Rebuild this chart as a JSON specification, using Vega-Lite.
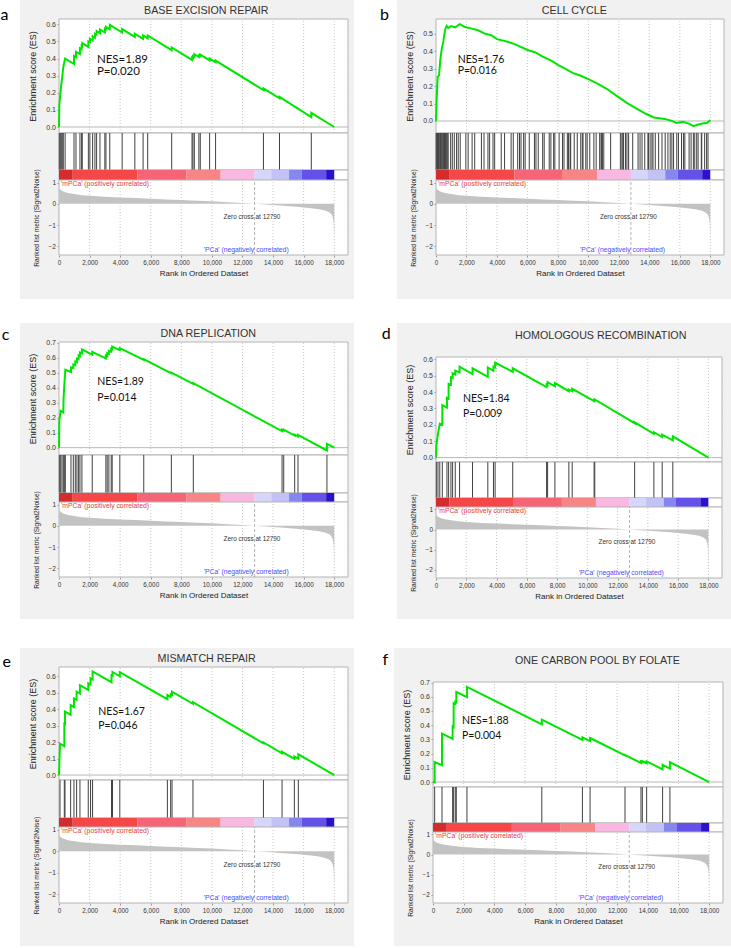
{
  "$schema": "https://vega.github.io/schema/vega-lite/v6.json",
  "padding": 0,
  "background": "white",
  "config": {
    "view": {"stroke": null},
    "axis": {"labelFont": "Liberation Sans", "titleFont": "Liberation Sans", "labelFontSize": 6.5, "labelColor": "#333", "titleColor": "#222", "titleFontWeight": "normal", "tickColor": "#999", "tickSize": 2, "domain": false, "gridColor": "#c8c8c8", "gridDash": [1, 2], "labelPadding": 1.5, "zindex": 1, "labelOverlap": false}
  },
  "datasets": {
    "grid": [{"t": 2000}, {"t": 4000}, {"t": 6000}, {"t": 8000}, {"t": 10000}, {"t": 12000}, {"t": 14000}, {"t": 16000}, {"t": 18000}],
    "bar": [{"s": 0, "e": 900, "k": 0}, {"s": 900, "e": 5140, "k": 1}, {"s": 5140, "e": 8320, "k": 2}, {"s": 8320, "e": 10570, "k": 3}, {"s": 10570, "e": 12790, "k": 4}, {"s": 12790, "e": 13880, "k": 5}, {"s": 13880, "e": 15045, "k": 6}, {"s": 15045, "e": 15860, "k": 7}, {"s": 15860, "e": 17470, "k": 8}, {"s": 17470, "e": 18000, "k": 9}],
    "metric": [{"r": 0, "m": 0.78}, {"r": 30, "m": 0.72}, {"r": 100, "m": 0.66}, {"r": 200, "m": 0.61}, {"r": 350, "m": 0.56}, {"r": 600, "m": 0.51}, {"r": 1000, "m": 0.46}, {"r": 1500, "m": 0.41}, {"r": 2000, "m": 0.38}, {"r": 3000, "m": 0.33}, {"r": 4000, "m": 0.3}, {"r": 5000, "m": 0.27}, {"r": 6000, "m": 0.24}, {"r": 7000, "m": 0.21}, {"r": 8000, "m": 0.18}, {"r": 9000, "m": 0.15}, {"r": 10000, "m": 0.12}, {"r": 11000, "m": 0.08}, {"r": 12000, "m": 0.04}, {"r": 12790, "m": 0}, {"r": 13500, "m": -0.03}, {"r": 14500, "m": -0.08}, {"r": 15500, "m": -0.13}, {"r": 16500, "m": -0.2}, {"r": 17000, "m": -0.25}, {"r": 17400, "m": -0.31}, {"r": 17700, "m": -0.4}, {"r": 17850, "m": -0.52}, {"r": 17930, "m": -0.7}, {"r": 17970, "m": -0.95}, {"r": 17990, "m": -1.4}, {"r": 18000, "m": -2.3}],
    "hits": [
      {"p": "a", "r": 20}, {"p": "a", "r": 85}, {"p": "a", "r": 150}, {"p": "a", "r": 215}, {"p": "a", "r": 280}, {"p": "a", "r": 400}, {"p": "a", "r": 980}, {"p": "a", "r": 1110}, {"p": "a", "r": 1370}, {"p": "a", "r": 1480}, {"p": "a", "r": 1520}, {"p": "a", "r": 1920}, {"p": "a", "r": 2020}, {"p": "a", "r": 2200}, {"p": "a", "r": 2350}, {"p": "a", "r": 2460}, {"p": "a", "r": 2680}, {"p": "a", "r": 3000}, {"p": "a", "r": 3070}, {"p": "a", "r": 3320}, {"p": "a", "r": 4130}, {"p": "a", "r": 4960}, {"p": "a", "r": 5500}, {"p": "a", "r": 5800}, {"p": "a", "r": 7370}, {"p": "a", "r": 8700}, {"p": "a", "r": 8760}, {"p": "a", "r": 8850}, {"p": "a", "r": 9150}, {"p": "a", "r": 9240}, {"p": "a", "r": 9850}, {"p": "a", "r": 10240}, {"p": "a", "r": 13370}, {"p": "a", "r": 14420}, {"p": "a", "r": 16500},
      {"p": "b", "r": 10}, {"p": "b", "r": 50}, {"p": "b", "r": 90}, {"p": "b", "r": 130}, {"p": "b", "r": 170}, {"p": "b", "r": 210}, {"p": "b", "r": 260}, {"p": "b", "r": 300}, {"p": "b", "r": 350}, {"p": "b", "r": 400}, {"p": "b", "r": 450}, {"p": "b", "r": 500}, {"p": "b", "r": 560}, {"p": "b", "r": 620}, {"p": "b", "r": 680}, {"p": "b", "r": 740}, {"p": "b", "r": 800}, {"p": "b", "r": 960}, {"p": "b", "r": 1070}, {"p": "b", "r": 1200}, {"p": "b", "r": 1350}, {"p": "b", "r": 1460}, {"p": "b", "r": 1590}, {"p": "b", "r": 1960}, {"p": "b", "r": 2110}, {"p": "b", "r": 2370}, {"p": "b", "r": 2540}, {"p": "b", "r": 2980}, {"p": "b", "r": 3150}, {"p": "b", "r": 3410}, {"p": "b", "r": 3520}, {"p": "b", "r": 3740}, {"p": "b", "r": 3850}, {"p": "b", "r": 4280}, {"p": "b", "r": 4500}, {"p": "b", "r": 4930}, {"p": "b", "r": 5070}, {"p": "b", "r": 5360}, {"p": "b", "r": 5480}, {"p": "b", "r": 5580}, {"p": "b", "r": 5750}, {"p": "b", "r": 5850}, {"p": "b", "r": 6120}, {"p": "b", "r": 6460}, {"p": "b", "r": 6560}, {"p": "b", "r": 6710}, {"p": "b", "r": 7000}, {"p": "b", "r": 7100}, {"p": "b", "r": 7430}, {"p": "b", "r": 7540}, {"p": "b", "r": 7720}, {"p": "b", "r": 7800}, {"p": "b", "r": 8080}, {"p": "b", "r": 8300}, {"p": "b", "r": 8400}, {"p": "b", "r": 8620}, {"p": "b", "r": 8700}, {"p": "b", "r": 8800}, {"p": "b", "r": 8840}, {"p": "b", "r": 9070}, {"p": "b", "r": 9270}, {"p": "b", "r": 9500}, {"p": "b", "r": 9600}, {"p": "b", "r": 9650}, {"p": "b", "r": 9830}, {"p": "b", "r": 9920}, {"p": "b", "r": 10090}, {"p": "b", "r": 10360}, {"p": "b", "r": 10510}, {"p": "b", "r": 10740}, {"p": "b", "r": 10830}, {"p": "b", "r": 10870}, {"p": "b", "r": 10920}, {"p": "b", "r": 11010}, {"p": "b", "r": 11460}, {"p": "b", "r": 12100}, {"p": "b", "r": 12200}, {"p": "b", "r": 12260}, {"p": "b", "r": 12310}, {"p": "b", "r": 12440}, {"p": "b", "r": 12530}, {"p": "b", "r": 12640}, {"p": "b", "r": 12910}, {"p": "b", "r": 13260}, {"p": "b", "r": 13390}, {"p": "b", "r": 13520}, {"p": "b", "r": 13700}, {"p": "b", "r": 13910}, {"p": "b", "r": 13940}, {"p": "b", "r": 14050}, {"p": "b", "r": 14170}, {"p": "b", "r": 14240}, {"p": "b", "r": 14390}, {"p": "b", "r": 14610}, {"p": "b", "r": 14830}, {"p": "b", "r": 15040}, {"p": "b", "r": 15220}, {"p": "b", "r": 15370}, {"p": "b", "r": 15480}, {"p": "b", "r": 15590}, {"p": "b", "r": 15800}, {"p": "b", "r": 15910}, {"p": "b", "r": 16110}, {"p": "b", "r": 16240}, {"p": "b", "r": 16330}, {"p": "b", "r": 16610}, {"p": "b", "r": 16740}, {"p": "b", "r": 16890}, {"p": "b", "r": 16980}, {"p": "b", "r": 17110}, {"p": "b", "r": 17200}, {"p": "b", "r": 17410}, {"p": "b", "r": 17440}, {"p": "b", "r": 17630}, {"p": "b", "r": 17760}, {"p": "b", "r": 17850},
      {"p": "c", "r": 22}, {"p": "c", "r": 109}, {"p": "c", "r": 196}, {"p": "c", "r": 283}, {"p": "c", "r": 348}, {"p": "c", "r": 413}, {"p": "c", "r": 783}, {"p": "c", "r": 935}, {"p": "c", "r": 1065}, {"p": "c", "r": 1174}, {"p": "c", "r": 1283}, {"p": "c", "r": 1370}, {"p": "c", "r": 1500}, {"p": "c", "r": 2174}, {"p": "c", "r": 3065}, {"p": "c", "r": 3152}, {"p": "c", "r": 3261}, {"p": "c", "r": 3413}, {"p": "c", "r": 3478}, {"p": "c", "r": 3978}, {"p": "c", "r": 5543}, {"p": "c", "r": 7348}, {"p": "c", "r": 8783}, {"p": "c", "r": 14587}, {"p": "c", "r": 14696}, {"p": "c", "r": 15413}, {"p": "c", "r": 15630}, {"p": "c", "r": 17522},
      {"p": "d", "r": 22}, {"p": "d", "r": 132}, {"p": "d", "r": 250}, {"p": "d", "r": 417}, {"p": "d", "r": 724}, {"p": "d", "r": 834}, {"p": "d", "r": 988}, {"p": "d", "r": 1097}, {"p": "d", "r": 1273}, {"p": "d", "r": 1558}, {"p": "d", "r": 2414}, {"p": "d", "r": 3424}, {"p": "d", "r": 3797}, {"p": "d", "r": 3907}, {"p": "d", "r": 5070}, {"p": "d", "r": 7309}, {"p": "d", "r": 7375}, {"p": "d", "r": 7858}, {"p": "d", "r": 8780}, {"p": "d", "r": 9000}, {"p": "d", "r": 10448}, {"p": "d", "r": 10492}, {"p": "d", "r": 13126}, {"p": "d", "r": 14399}, {"p": "d", "r": 14948}, {"p": "d", "r": 15650},
      {"p": "e", "r": 65}, {"p": "e", "r": 348}, {"p": "e", "r": 391}, {"p": "e", "r": 761}, {"p": "e", "r": 978}, {"p": "e", "r": 1152}, {"p": "e", "r": 1370}, {"p": "e", "r": 1913}, {"p": "e", "r": 2065}, {"p": "e", "r": 2196}, {"p": "e", "r": 3435}, {"p": "e", "r": 3500}, {"p": "e", "r": 3978}, {"p": "e", "r": 7087}, {"p": "e", "r": 7304}, {"p": "e", "r": 7391}, {"p": "e", "r": 8761}, {"p": "e", "r": 13370}, {"p": "e", "r": 14587}, {"p": "e", "r": 15391}, {"p": "e", "r": 15652},
      {"p": "f", "r": 108}, {"p": "f", "r": 586}, {"p": "f", "r": 1280}, {"p": "f", "r": 1345}, {"p": "f", "r": 1453}, {"p": "f", "r": 1518}, {"p": "f", "r": 2212}, {"p": "f", "r": 7092}, {"p": "f", "r": 9738}, {"p": "f", "r": 10237}, {"p": "f", "r": 12514}, {"p": "f", "r": 13555}, {"p": "f", "r": 13642}, {"p": "f", "r": 13924}, {"p": "f", "r": 14964}, {"p": "f", "r": 15441}
    ],
    "es": [
      {"p": "a", "r": 0, "v": 0}, {"p": "a", "r": 20, "v": 0.13}, {"p": "a", "r": 85, "v": 0.19}, {"p": "a", "r": 150, "v": 0.25}, {"p": "a", "r": 215, "v": 0.295}, {"p": "a", "r": 280, "v": 0.35}, {"p": "a", "r": 400, "v": 0.4}, {"p": "a", "r": 980, "v": 0.368}, {"p": "a", "r": 980, "v": 0.415}, {"p": "a", "r": 1110, "v": 0.408}, {"p": "a", "r": 1110, "v": 0.44}, {"p": "a", "r": 1370, "v": 0.426}, {"p": "a", "r": 1370, "v": 0.46}, {"p": "a", "r": 1480, "v": 0.454}, {"p": "a", "r": 1480, "v": 0.475}, {"p": "a", "r": 1520, "v": 0.473}, {"p": "a", "r": 1520, "v": 0.49}, {"p": "a", "r": 1920, "v": 0.468}, {"p": "a", "r": 1920, "v": 0.5}, {"p": "a", "r": 2020, "v": 0.495}, {"p": "a", "r": 2020, "v": 0.515}, {"p": "a", "r": 2200, "v": 0.505}, {"p": "a", "r": 2200, "v": 0.53}, {"p": "a", "r": 2350, "v": 0.522}, {"p": "a", "r": 2350, "v": 0.545}, {"p": "a", "r": 2460, "v": 0.539}, {"p": "a", "r": 2460, "v": 0.56}, {"p": "a", "r": 2680, "v": 0.548}, {"p": "a", "r": 2680, "v": 0.57}, {"p": "a", "r": 3000, "v": 0.552}, {"p": "a", "r": 3000, "v": 0.575}, {"p": "a", "r": 3070, "v": 0.571}, {"p": "a", "r": 3070, "v": 0.585}, {"p": "a", "r": 3320, "v": 0.571}, {"p": "a", "r": 3320, "v": 0.597}, {"p": "a", "r": 4130, "v": 0.552}, {"p": "a", "r": 4130, "v": 0.572}, {"p": "a", "r": 4960, "v": 0.526}, {"p": "a", "r": 4960, "v": 0.545}, {"p": "a", "r": 5500, "v": 0.515}, {"p": "a", "r": 5500, "v": 0.535}, {"p": "a", "r": 5800, "v": 0.518}, {"p": "a", "r": 5800, "v": 0.535}, {"p": "a", "r": 7370, "v": 0.449}, {"p": "a", "r": 7370, "v": 0.465}, {"p": "a", "r": 8700, "v": 0.392}, {"p": "a", "r": 8700, "v": 0.405}, {"p": "a", "r": 8760, "v": 0.402}, {"p": "a", "r": 8760, "v": 0.415}, {"p": "a", "r": 8850, "v": 0.41}, {"p": "a", "r": 8850, "v": 0.425}, {"p": "a", "r": 9150, "v": 0.409}, {"p": "a", "r": 9150, "v": 0.418}, {"p": "a", "r": 9240, "v": 0.413}, {"p": "a", "r": 9240, "v": 0.423}, {"p": "a", "r": 9850, "v": 0.389}, {"p": "a", "r": 9850, "v": 0.4}, {"p": "a", "r": 10240, "v": 0.379}, {"p": "a", "r": 10240, "v": 0.388}, {"p": "a", "r": 13370, "v": 0.216}, {"p": "a", "r": 13370, "v": 0.226}, {"p": "a", "r": 14420, "v": 0.168}, {"p": "a", "r": 14420, "v": 0.176}, {"p": "a", "r": 16500, "v": 0.058}, {"p": "a", "r": 16500, "v": 0.083}, {"p": "a", "r": 18000, "v": 0},
      {"p": "b", "r": 0, "v": 0}, {"p": "b", "r": 40, "v": 0.12}, {"p": "b", "r": 110, "v": 0.255}, {"p": "b", "r": 200, "v": 0.262}, {"p": "b", "r": 280, "v": 0.35}, {"p": "b", "r": 370, "v": 0.41}, {"p": "b", "r": 480, "v": 0.456}, {"p": "b", "r": 590, "v": 0.523}, {"p": "b", "r": 700, "v": 0.546}, {"p": "b", "r": 800, "v": 0.535}, {"p": "b", "r": 1000, "v": 0.545}, {"p": "b", "r": 1250, "v": 0.538}, {"p": "b", "r": 1560, "v": 0.556}, {"p": "b", "r": 1900, "v": 0.54}, {"p": "b", "r": 2300, "v": 0.532}, {"p": "b", "r": 2800, "v": 0.52}, {"p": "b", "r": 3200, "v": 0.502}, {"p": "b", "r": 3600, "v": 0.494}, {"p": "b", "r": 4000, "v": 0.47}, {"p": "b", "r": 4700, "v": 0.455}, {"p": "b", "r": 5200, "v": 0.44}, {"p": "b", "r": 6000, "v": 0.408}, {"p": "b", "r": 6500, "v": 0.395}, {"p": "b", "r": 7000, "v": 0.37}, {"p": "b", "r": 7600, "v": 0.345}, {"p": "b", "r": 8000, "v": 0.322}, {"p": "b", "r": 8500, "v": 0.3}, {"p": "b", "r": 9000, "v": 0.275}, {"p": "b", "r": 9500, "v": 0.26}, {"p": "b", "r": 10000, "v": 0.241}, {"p": "b", "r": 10600, "v": 0.215}, {"p": "b", "r": 11200, "v": 0.185}, {"p": "b", "r": 12000, "v": 0.136}, {"p": "b", "r": 12600, "v": 0.1}, {"p": "b", "r": 13200, "v": 0.07}, {"p": "b", "r": 13800, "v": 0.04}, {"p": "b", "r": 14300, "v": 0.02}, {"p": "b", "r": 15000, "v": 0.012}, {"p": "b", "r": 15500, "v": 0}, {"p": "b", "r": 15800, "v": -0.012}, {"p": "b", "r": 16200, "v": -0.005}, {"p": "b", "r": 16600, "v": -0.015}, {"p": "b", "r": 16900, "v": -0.03}, {"p": "b", "r": 17200, "v": -0.02}, {"p": "b", "r": 17500, "v": -0.015}, {"p": "b", "r": 17800, "v": -0.01}, {"p": "b", "r": 18000, "v": 0.005},
      {"p": "c", "r": 0, "v": 0}, {"p": "c", "r": 22, "v": 0.18}, {"p": "c", "r": 109, "v": 0.245}, {"p": "c", "r": 283, "v": 0.235}, {"p": "c", "r": 300, "v": 0.33}, {"p": "c", "r": 348, "v": 0.42}, {"p": "c", "r": 413, "v": 0.52}, {"p": "c", "r": 783, "v": 0.505}, {"p": "c", "r": 783, "v": 0.535}, {"p": "c", "r": 935, "v": 0.53}, {"p": "c", "r": 935, "v": 0.555}, {"p": "c", "r": 1065, "v": 0.55}, {"p": "c", "r": 1065, "v": 0.575}, {"p": "c", "r": 1174, "v": 0.57}, {"p": "c", "r": 1174, "v": 0.595}, {"p": "c", "r": 1283, "v": 0.59}, {"p": "c", "r": 1283, "v": 0.615}, {"p": "c", "r": 1370, "v": 0.61}, {"p": "c", "r": 1370, "v": 0.635}, {"p": "c", "r": 1500, "v": 0.63}, {"p": "c", "r": 1500, "v": 0.655}, {"p": "c", "r": 2174, "v": 0.62}, {"p": "c", "r": 2174, "v": 0.64}, {"p": "c", "r": 3065, "v": 0.595}, {"p": "c", "r": 3065, "v": 0.615}, {"p": "c", "r": 3152, "v": 0.61}, {"p": "c", "r": 3152, "v": 0.63}, {"p": "c", "r": 3261, "v": 0.625}, {"p": "c", "r": 3261, "v": 0.645}, {"p": "c", "r": 3413, "v": 0.64}, {"p": "c", "r": 3413, "v": 0.66}, {"p": "c", "r": 3478, "v": 0.657}, {"p": "c", "r": 3478, "v": 0.675}, {"p": "c", "r": 3978, "v": 0.65}, {"p": "c", "r": 3978, "v": 0.665}, {"p": "c", "r": 5543, "v": 0.585}, {"p": "c", "r": 5543, "v": 0.59}, {"p": "c", "r": 7348, "v": 0.495}, {"p": "c", "r": 7348, "v": 0.5}, {"p": "c", "r": 8783, "v": 0.425}, {"p": "c", "r": 8783, "v": 0.43}, {"p": "c", "r": 14587, "v": 0.11}, {"p": "c", "r": 14587, "v": 0.12}, {"p": "c", "r": 14696, "v": 0.114}, {"p": "c", "r": 14696, "v": 0.12}, {"p": "c", "r": 15413, "v": 0.081}, {"p": "c", "r": 15413, "v": 0.087}, {"p": "c", "r": 15630, "v": 0.075}, {"p": "c", "r": 15630, "v": 0.085}, {"p": "c", "r": 17522, "v": -0.019}, {"p": "c", "r": 17522, "v": 0.025}, {"p": "c", "r": 18000, "v": 0},
      {"p": "d", "r": 0, "v": 0}, {"p": "d", "r": 22, "v": 0.075}, {"p": "d", "r": 132, "v": 0.146}, {"p": "d", "r": 250, "v": 0.207}, {"p": "d", "r": 417, "v": 0.2}, {"p": "d", "r": 417, "v": 0.32}, {"p": "d", "r": 724, "v": 0.305}, {"p": "d", "r": 724, "v": 0.365}, {"p": "d", "r": 834, "v": 0.36}, {"p": "d", "r": 834, "v": 0.45}, {"p": "d", "r": 988, "v": 0.445}, {"p": "d", "r": 988, "v": 0.49}, {"p": "d", "r": 1097, "v": 0.485}, {"p": "d", "r": 1097, "v": 0.515}, {"p": "d", "r": 1273, "v": 0.508}, {"p": "d", "r": 1273, "v": 0.53}, {"p": "d", "r": 1558, "v": 0.52}, {"p": "d", "r": 1558, "v": 0.555}, {"p": "d", "r": 2414, "v": 0.51}, {"p": "d", "r": 2414, "v": 0.545}, {"p": "d", "r": 3424, "v": 0.493}, {"p": "d", "r": 3424, "v": 0.55}, {"p": "d", "r": 3797, "v": 0.53}, {"p": "d", "r": 3797, "v": 0.555}, {"p": "d", "r": 3907, "v": 0.55}, {"p": "d", "r": 3907, "v": 0.58}, {"p": "d", "r": 5070, "v": 0.523}, {"p": "d", "r": 5070, "v": 0.545}, {"p": "d", "r": 7309, "v": 0.43}, {"p": "d", "r": 7309, "v": 0.445}, {"p": "d", "r": 7375, "v": 0.442}, {"p": "d", "r": 7375, "v": 0.46}, {"p": "d", "r": 7858, "v": 0.435}, {"p": "d", "r": 7858, "v": 0.455}, {"p": "d", "r": 8780, "v": 0.405}, {"p": "d", "r": 8780, "v": 0.415}, {"p": "d", "r": 9000, "v": 0.405}, {"p": "d", "r": 9000, "v": 0.42}, {"p": "d", "r": 10448, "v": 0.345}, {"p": "d", "r": 10448, "v": 0.35}, {"p": "d", "r": 10492, "v": 0.348}, {"p": "d", "r": 10492, "v": 0.355}, {"p": "d", "r": 13126, "v": 0.21}, {"p": "d", "r": 13126, "v": 0.215}, {"p": "d", "r": 14399, "v": 0.145}, {"p": "d", "r": 14399, "v": 0.155}, {"p": "d", "r": 14948, "v": 0.125}, {"p": "d", "r": 14948, "v": 0.14}, {"p": "d", "r": 15650, "v": 0.105}, {"p": "d", "r": 15650, "v": 0.13}, {"p": "d", "r": 18000, "v": 0},
      {"p": "e", "r": 0, "v": 0}, {"p": "e", "r": 65, "v": 0.19}, {"p": "e", "r": 348, "v": 0.175}, {"p": "e", "r": 348, "v": 0.31}, {"p": "e", "r": 391, "v": 0.308}, {"p": "e", "r": 391, "v": 0.385}, {"p": "e", "r": 761, "v": 0.365}, {"p": "e", "r": 761, "v": 0.424}, {"p": "e", "r": 978, "v": 0.412}, {"p": "e", "r": 978, "v": 0.465}, {"p": "e", "r": 1152, "v": 0.456}, {"p": "e", "r": 1152, "v": 0.505}, {"p": "e", "r": 1370, "v": 0.494}, {"p": "e", "r": 1370, "v": 0.545}, {"p": "e", "r": 1913, "v": 0.516}, {"p": "e", "r": 1913, "v": 0.556}, {"p": "e", "r": 2065, "v": 0.548}, {"p": "e", "r": 2065, "v": 0.586}, {"p": "e", "r": 2196, "v": 0.579}, {"p": "e", "r": 2196, "v": 0.628}, {"p": "e", "r": 3435, "v": 0.563}, {"p": "e", "r": 3435, "v": 0.605}, {"p": "e", "r": 3500, "v": 0.602}, {"p": "e", "r": 3500, "v": 0.625}, {"p": "e", "r": 3978, "v": 0.599}, {"p": "e", "r": 3978, "v": 0.624}, {"p": "e", "r": 7087, "v": 0.46}, {"p": "e", "r": 7087, "v": 0.485}, {"p": "e", "r": 7304, "v": 0.474}, {"p": "e", "r": 7304, "v": 0.49}, {"p": "e", "r": 7391, "v": 0.485}, {"p": "e", "r": 7391, "v": 0.505}, {"p": "e", "r": 8761, "v": 0.432}, {"p": "e", "r": 8761, "v": 0.442}, {"p": "e", "r": 13370, "v": 0.192}, {"p": "e", "r": 13370, "v": 0.198}, {"p": "e", "r": 14587, "v": 0.132}, {"p": "e", "r": 14587, "v": 0.141}, {"p": "e", "r": 15391, "v": 0.098}, {"p": "e", "r": 15391, "v": 0.112}, {"p": "e", "r": 15652, "v": 0.098}, {"p": "e", "r": 15652, "v": 0.126}, {"p": "e", "r": 18000, "v": 0},
      {"p": "f", "r": 0, "v": 0}, {"p": "f", "r": 108, "v": -0.003}, {"p": "f", "r": 108, "v": 0.14}, {"p": "f", "r": 586, "v": 0.118}, {"p": "f", "r": 586, "v": 0.34}, {"p": "f", "r": 1280, "v": 0.303}, {"p": "f", "r": 1280, "v": 0.39}, {"p": "f", "r": 1345, "v": 0.386}, {"p": "f", "r": 1345, "v": 0.555}, {"p": "f", "r": 1453, "v": 0.549}, {"p": "f", "r": 1453, "v": 0.565}, {"p": "f", "r": 1518, "v": 0.561}, {"p": "f", "r": 1518, "v": 0.635}, {"p": "f", "r": 2212, "v": 0.598}, {"p": "f", "r": 2212, "v": 0.67}, {"p": "f", "r": 7092, "v": 0.406}, {"p": "f", "r": 7092, "v": 0.44}, {"p": "f", "r": 9738, "v": 0.297}, {"p": "f", "r": 9738, "v": 0.315}, {"p": "f", "r": 10237, "v": 0.288}, {"p": "f", "r": 10237, "v": 0.31}, {"p": "f", "r": 12514, "v": 0.187}, {"p": "f", "r": 12514, "v": 0.19}, {"p": "f", "r": 13555, "v": 0.134}, {"p": "f", "r": 13555, "v": 0.145}, {"p": "f", "r": 13642, "v": 0.14}, {"p": "f", "r": 13642, "v": 0.147}, {"p": "f", "r": 13924, "v": 0.132}, {"p": "f", "r": 13924, "v": 0.145}, {"p": "f", "r": 14964, "v": 0.089}, {"p": "f", "r": 14964, "v": 0.12}, {"p": "f", "r": 15441, "v": 0.094}, {"p": "f", "r": 15441, "v": 0.14}, {"p": "f", "r": 18000, "v": 0}
    ]
  },
  "spacing": 29,
  "vconcat": [
    {
      "spacing": 24,
      "vconcat": [
        {
          "spacing": 0,
          "hconcat": [
            {"width": 20, "height": 40, "data": {"values": [{"t": "a"}]}, "mark": {"type": "text", "font": "Lato", "fontSize": 16, "baseline": "alphabetic", "dx": -5.5, "color": "black"}, "encoding": {"text": {"field": "t"}}},
            {
              "width": 334, "height": 299,
              "view": {"fill": "#f1f1f1", "stroke": null},
              "resolve": {"scale": {"y": "independent"}, "axis": {"y": "independent"}},
              "layer": [
                {"layer": [
                  {"data": {"values": [{}]}, "mark": {"type": "rect", "fill": "white", "stroke": "#b4b4b4", "strokeWidth": 1}, "encoding": {"x": {"datum": 0, "type": "quantitative", "scale": {"domain": [0, 18900], "range": [39, 328], "nice": false, "zero": false}}, "x2": {"datum": 18900}, "y": {"datum": -0.035, "type": "quantitative", "scale": {"domain": [-0.035, 0.631], "range": [133, 19], "nice": false, "zero": false}, "axis": {"orient": "left", "offset": -39, "values": [0, 0.1, 0.2, 0.3, 0.4, 0.5, 0.6], "tickCount": 20, "format": ".1f", "grid": true, "title": "Enrichment score (ES)", "titleFontSize": 9, "titlePadding": 8, "labelFontSize": 7}}, "y2": {"datum": 0.631}}},
                  {"data": {"name": "grid"}, "mark": {"type": "rule", "stroke": "#c8c8c8", "strokeDash": [1, 2]}, "encoding": {"x": {"field": "t", "type": "quantitative"}, "y": {"datum": -0.035, "type": "quantitative"}, "y2": {"datum": 0.631}}},
                  {"data": {"values": [{}]}, "mark": {"type": "rule", "stroke": "#b8b8b8"}, "encoding": {"x": {"datum": 0, "type": "quantitative"}, "x2": {"datum": 18900}, "y": {"datum": 0, "type": "quantitative"}}},
                  {"data": {"name": "es"}, "transform": [{"filter": "datum.p === 'a'"}], "mark": {"type": "line", "stroke": "#00e600", "strokeWidth": 2}, "encoding": {"x": {"field": "r", "type": "quantitative"}, "y": {"field": "v", "type": "quantitative"}}},
                  {"data": {"values": [{}]}, "mark": {"type": "text", "text": "NES=1.89", "font": "Lato", "fontSize": 11.5, "align": "left", "baseline": "middle", "color": "#111"}, "encoding": {"x": {"datum": 2480, "type": "quantitative"}, "y": {"datum": 0.391, "type": "quantitative"}}},
                  {"data": {"values": [{}]}, "mark": {"type": "text", "text": "P=0.020", "font": "Lato", "fontSize": 11.5, "align": "left", "baseline": "middle", "color": "#111"}, "encoding": {"x": {"datum": 2480, "type": "quantitative"}, "y": {"datum": 0.321, "type": "quantitative"}}},
                  {"data": {"values": [{}]}, "mark": {"type": "text", "text": "BASE EXCISION REPAIR", "font": "Liberation Sans", "fontSize": 10.7, "align": "center", "baseline": "middle", "color": "#333"}, "encoding": {"x": {"datum": 9633, "type": "quantitative"}, "y": {"datum": 0.678, "type": "quantitative"}}}
                ]},
                {"layer": [
                  {"data": {"values": [{}]}, "mark": {"type": "rect", "fill": "white", "stroke": "#b4b4b4", "strokeWidth": 1}, "encoding": {"x": {"datum": 0, "type": "quantitative"}, "x2": {"datum": 18900}, "y": {"datum": 0, "type": "quantitative", "scale": {"domain": [0, 1], "range": [170, 133], "nice": false}, "axis": null}, "y2": {"datum": 1}}},
                  {"data": {"name": "hits"}, "transform": [{"filter": "datum.p === 'a'"}], "mark": {"type": "rule", "stroke": "#404040", "strokeWidth": 1}, "encoding": {"x": {"field": "r", "type": "quantitative"}, "y": {"datum": 0, "type": "quantitative", "axis": null}, "y2": {"datum": 1}}}
                ]},
                {"layer": [
                  {"data": {"values": [{}]}, "mark": {"type": "rect", "fill": "white", "stroke": "#b4b4b4", "strokeWidth": 1}, "encoding": {"x": {"datum": 0, "type": "quantitative"}, "x2": {"datum": 18900}, "y": {"datum": 0, "type": "quantitative", "scale": {"domain": [0, 1], "range": [180, 170], "nice": false}, "axis": null}, "y2": {"datum": 1}}},
                  {"data": {"name": "bar"}, "mark": {"type": "rect"}, "encoding": {"x": {"field": "s", "type": "quantitative"}, "x2": {"field": "e"}, "y": {"datum": 0, "type": "quantitative", "axis": null}, "y2": {"datum": 1}, "color": {"field": "k", "type": "nominal", "scale": {"domain": [0, 1, 2, 3, 4, 5, 6, 7, 8, 9], "range": ["#d42c2c", "#f54747", "#f66577", "#f78585", "#f8b8e2", "#d6d6fa", "#c2c2f7", "#8686f0", "#6452e8", "#2a12cc"]}, "legend": null}}}
                ]},
                {"layer": [
                  {"data": {"values": [{}]}, "mark": {"type": "rect", "fill": "white", "stroke": "#b4b4b4", "strokeWidth": 1}, "encoding": {"x": {"datum": 0, "type": "quantitative"}, "x2": {"datum": 18900}, "y": {"datum": -2.4, "type": "quantitative", "scale": {"domain": [-2.4, 1.12], "range": [255, 180], "nice": false, "zero": false}, "axis": {"orient": "left", "offset": -39, "values": [-2, -1, 0, 1], "tickCount": 20, "format": "d", "grid": true, "title": "Ranked list metric (Signal2Noise)", "titleFontSize": 6.6, "titlePadding": 9, "labelFontSize": 6.5}}, "y2": {"datum": 1.12}}},
                  {"data": {"name": "grid"}, "mark": {"type": "rule", "stroke": "#c8c8c8", "strokeDash": [1, 2]}, "encoding": {"x": {"field": "t", "type": "quantitative"}, "y": {"datum": -2.4, "type": "quantitative"}, "y2": {"datum": 1.12}}},
                  {"data": {"name": "metric"}, "mark": {"type": "area", "color": "#c3c3c3"}, "encoding": {"x": {"field": "r", "type": "quantitative", "axis": {"orient": "bottom", "offset": -44, "values": [0, 2000, 4000, 6000, 8000, 10000, 12000, 14000, 16000, 18000], "tickCount": 20, "format": ",d", "grid": false, "labelFlush": false, "labelOverlap": false, "title": "Rank in Ordered Dataset", "titleFontSize": 8, "titlePadding": 4, "labelFontSize": 6.3, "labelPadding": 2}}, "y": {"field": "m", "type": "quantitative"}}},
                  {"data": {"values": [{}]}, "mark": {"type": "rule", "stroke": "#a0a0a0", "strokeDash": [3, 2], "strokeWidth": 0.8}, "encoding": {"x": {"datum": 12790, "type": "quantitative"}, "y": {"datum": -2.4, "type": "quantitative"}, "y2": {"datum": 1.12}}},
                  {"data": {"values": [{}]}, "mark": {"type": "text", "text": "'mPCa' (positively correlated)", "font": "Liberation Sans", "fontSize": 6.8, "color": "#e83a3a", "align": "left", "baseline": "middle"}, "encoding": {"x": {"datum": 130, "type": "quantitative"}, "y": {"datum": 0.93, "type": "quantitative"}}},
                  {"data": {"values": [{}]}, "mark": {"type": "text", "text": "'PCa' (negatively correlated)", "font": "Liberation Sans", "fontSize": 6.8, "color": "#4a4aff", "align": "center", "baseline": "middle"}, "encoding": {"x": {"datum": 12240, "type": "quantitative"}, "y": {"datum": -2.17, "type": "quantitative"}}},
                  {"data": {"values": [{}]}, "mark": {"type": "text", "text": "Zero cross at 12790", "font": "Liberation Sans", "fontSize": 6.4, "color": "#333", "align": "center", "baseline": "middle"}, "encoding": {"x": {"datum": 12622, "type": "quantitative"}, "y": {"datum": -0.62, "type": "quantitative"}}}
                ]}
              ]
            },
            {"width": 43, "height": 40, "data": {"values": [{"t": "b"}]}, "mark": {"type": "text", "font": "Lato", "fontSize": 16, "baseline": "alphabetic", "dx": 9, "color": "black"}, "encoding": {"text": {"field": "t"}}},
            {
              "width": 334, "height": 299,
              "view": {"fill": "#f1f1f1", "stroke": null},
              "resolve": {"scale": {"y": "independent"}, "axis": {"y": "independent"}},
              "layer": [
                {"layer": [
                  {"data": {"values": [{}]}, "mark": {"type": "rect", "fill": "white", "stroke": "#b4b4b4", "strokeWidth": 1}, "encoding": {"x": {"datum": 0, "type": "quantitative", "scale": {"domain": [0, 18900], "range": [39, 327], "nice": false, "zero": false}}, "x2": {"datum": 18900}, "y": {"datum": -0.069, "type": "quantitative", "scale": {"domain": [-0.069, 0.586], "range": [133, 19], "nice": false, "zero": false}, "axis": {"orient": "left", "offset": -39, "values": [0, 0.1, 0.2, 0.3, 0.4, 0.5], "tickCount": 20, "format": ".1f", "grid": true, "title": "Enrichment score (ES)", "titleFontSize": 9, "titlePadding": 8, "labelFontSize": 7}}, "y2": {"datum": 0.586}}},
                  {"data": {"name": "grid"}, "mark": {"type": "rule", "stroke": "#c8c8c8", "strokeDash": [1, 2]}, "encoding": {"x": {"field": "t", "type": "quantitative"}, "y": {"datum": -0.069, "type": "quantitative"}, "y2": {"datum": 0.586}}},
                  {"data": {"values": [{}]}, "mark": {"type": "rule", "stroke": "#b8b8b8"}, "encoding": {"x": {"datum": 0, "type": "quantitative"}, "x2": {"datum": 18900}, "y": {"datum": 0, "type": "quantitative"}}},
                  {"data": {"name": "es"}, "transform": [{"filter": "datum.p === 'b'"}], "mark": {"type": "line", "stroke": "#00e600", "strokeWidth": 2}, "encoding": {"x": {"field": "r", "type": "quantitative"}, "y": {"field": "v", "type": "quantitative"}}},
                  {"data": {"values": [{}]}, "mark": {"type": "text", "text": "NES=1.76", "font": "Lato", "fontSize": 10.5, "align": "left", "baseline": "middle", "color": "#111"}, "encoding": {"x": {"datum": 1424, "type": "quantitative"}, "y": {"datum": 0.353, "type": "quantitative"}}},
                  {"data": {"values": [{}]}, "mark": {"type": "text", "text": "P=0.016", "font": "Lato", "fontSize": 10.5, "align": "left", "baseline": "middle", "color": "#111"}, "encoding": {"x": {"datum": 1424, "type": "quantitative"}, "y": {"datum": 0.29, "type": "quantitative"}}},
                  {"data": {"values": [{}]}, "mark": {"type": "text", "text": "CELL CYCLE", "font": "Liberation Sans", "fontSize": 10.7, "align": "center", "baseline": "middle", "color": "#333"}, "encoding": {"x": {"datum": 9076, "type": "quantitative"}, "y": {"datum": 0.63, "type": "quantitative"}}}
                ]},
                {"layer": [
                  {"data": {"values": [{}]}, "mark": {"type": "rect", "fill": "white", "stroke": "#b4b4b4", "strokeWidth": 1}, "encoding": {"x": {"datum": 0, "type": "quantitative"}, "x2": {"datum": 18900}, "y": {"datum": 0, "type": "quantitative", "scale": {"domain": [0, 1], "range": [170, 133], "nice": false}, "axis": null}, "y2": {"datum": 1}}},
                  {"data": {"name": "hits"}, "transform": [{"filter": "datum.p === 'b'"}], "mark": {"type": "rule", "stroke": "#404040", "strokeWidth": 1}, "encoding": {"x": {"field": "r", "type": "quantitative"}, "y": {"datum": 0, "type": "quantitative", "axis": null}, "y2": {"datum": 1}}}
                ]},
                {"layer": [
                  {"data": {"values": [{}]}, "mark": {"type": "rect", "fill": "white", "stroke": "#b4b4b4", "strokeWidth": 1}, "encoding": {"x": {"datum": 0, "type": "quantitative"}, "x2": {"datum": 18900}, "y": {"datum": 0, "type": "quantitative", "scale": {"domain": [0, 1], "range": [180, 170], "nice": false}, "axis": null}, "y2": {"datum": 1}}},
                  {"data": {"name": "bar"}, "mark": {"type": "rect"}, "encoding": {"x": {"field": "s", "type": "quantitative"}, "x2": {"field": "e"}, "y": {"datum": 0, "type": "quantitative", "axis": null}, "y2": {"datum": 1}, "color": {"field": "k", "type": "nominal", "scale": {"domain": [0, 1, 2, 3, 4, 5, 6, 7, 8, 9], "range": ["#d42c2c", "#f54747", "#f66577", "#f78585", "#f8b8e2", "#d6d6fa", "#c2c2f7", "#8686f0", "#6452e8", "#2a12cc"]}, "legend": null}}}
                ]},
                {"layer": [
                  {"data": {"values": [{}]}, "mark": {"type": "rect", "fill": "white", "stroke": "#b4b4b4", "strokeWidth": 1}, "encoding": {"x": {"datum": 0, "type": "quantitative"}, "x2": {"datum": 18900}, "y": {"datum": -2.4, "type": "quantitative", "scale": {"domain": [-2.4, 1.12], "range": [255, 180], "nice": false, "zero": false}, "axis": {"orient": "left", "offset": -39, "values": [-2, -1, 0, 1], "tickCount": 20, "format": "d", "grid": true, "title": "Ranked list metric (Signal2Noise)", "titleFontSize": 6.6, "titlePadding": 9, "labelFontSize": 6.5}}, "y2": {"datum": 1.12}}},
                  {"data": {"name": "grid"}, "mark": {"type": "rule", "stroke": "#c8c8c8", "strokeDash": [1, 2]}, "encoding": {"x": {"field": "t", "type": "quantitative"}, "y": {"datum": -2.4, "type": "quantitative"}, "y2": {"datum": 1.12}}},
                  {"data": {"name": "metric"}, "mark": {"type": "area", "color": "#c3c3c3"}, "encoding": {"x": {"field": "r", "type": "quantitative", "axis": {"orient": "bottom", "offset": -44, "values": [0, 2000, 4000, 6000, 8000, 10000, 12000, 14000, 16000, 18000], "tickCount": 20, "format": ",d", "grid": false, "labelFlush": false, "labelOverlap": false, "title": "Rank in Ordered Dataset", "titleFontSize": 8, "titlePadding": 4, "labelFontSize": 6.3, "labelPadding": 2}}, "y": {"field": "m", "type": "quantitative"}}},
                  {"data": {"values": [{}]}, "mark": {"type": "rule", "stroke": "#a0a0a0", "strokeDash": [3, 2], "strokeWidth": 0.8}, "encoding": {"x": {"datum": 12790, "type": "quantitative"}, "y": {"datum": -2.4, "type": "quantitative"}, "y2": {"datum": 1.12}}},
                  {"data": {"values": [{}]}, "mark": {"type": "text", "text": "'mPCa' (positively correlated)", "font": "Liberation Sans", "fontSize": 6.8, "color": "#e83a3a", "align": "left", "baseline": "middle"}, "encoding": {"x": {"datum": 130, "type": "quantitative"}, "y": {"datum": 0.93, "type": "quantitative"}}},
                  {"data": {"values": [{}]}, "mark": {"type": "text", "text": "'PCa' (negatively correlated)", "font": "Liberation Sans", "fontSize": 6.8, "color": "#4a4aff", "align": "center", "baseline": "middle"}, "encoding": {"x": {"datum": 12240, "type": "quantitative"}, "y": {"datum": -2.17, "type": "quantitative"}}},
                  {"data": {"values": [{}]}, "mark": {"type": "text", "text": "Zero cross at 12790", "font": "Liberation Sans", "fontSize": 6.4, "color": "#333", "align": "center", "baseline": "middle"}, "encoding": {"x": {"datum": 12622, "type": "quantitative"}, "y": {"datum": -0.62, "type": "quantitative"}}}
                ]}
              ]
            }
          ]
        },
        {
          "spacing": 0,
          "hconcat": [
            {"width": 20, "height": 33, "data": {"values": [{"t": "c"}]}, "mark": {"type": "text", "font": "Lato", "fontSize": 16, "baseline": "alphabetic", "dx": -4.5, "color": "black"}, "encoding": {"text": {"field": "t"}}},
            {
              "width": 334, "height": 296,
              "view": {"fill": "#f1f1f1", "stroke": null},
              "resolve": {"scale": {"y": "independent"}, "axis": {"y": "independent"}},
              "layer": [
                {"layer": [
                  {"data": {"values": [{}]}, "mark": {"type": "rect", "fill": "white", "stroke": "#b4b4b4", "strokeWidth": 1}, "encoding": {"x": {"datum": 0, "type": "quantitative", "scale": {"domain": [0, 18900], "range": [39, 328], "nice": false, "zero": false}}, "x2": {"datum": 18900}, "y": {"datum": -0.049, "type": "quantitative", "scale": {"domain": [-0.049, 0.705], "range": [132, 19], "nice": false, "zero": false}, "axis": {"orient": "left", "offset": -39, "values": [0, 0.1, 0.2, 0.3, 0.4, 0.5, 0.6, 0.7], "tickCount": 20, "format": ".1f", "grid": true, "title": "Enrichment score (ES)", "titleFontSize": 9, "titlePadding": 8, "labelFontSize": 7}}, "y2": {"datum": 0.705}}},
                  {"data": {"name": "grid"}, "mark": {"type": "rule", "stroke": "#c8c8c8", "strokeDash": [1, 2]}, "encoding": {"x": {"field": "t", "type": "quantitative"}, "y": {"datum": -0.049, "type": "quantitative"}, "y2": {"datum": 0.705}}},
                  {"data": {"values": [{}]}, "mark": {"type": "rule", "stroke": "#b8b8b8"}, "encoding": {"x": {"datum": 0, "type": "quantitative"}, "x2": {"datum": 18900}, "y": {"datum": 0, "type": "quantitative"}}},
                  {"data": {"name": "es"}, "transform": [{"filter": "datum.p === 'c'"}], "mark": {"type": "line", "stroke": "#00e600", "strokeWidth": 2}, "encoding": {"x": {"field": "r", "type": "quantitative"}, "y": {"field": "v", "type": "quantitative"}}},
                  {"data": {"values": [{}]}, "mark": {"type": "text", "text": "NES=1.89", "font": "Lato", "fontSize": 10.5, "align": "left", "baseline": "middle", "color": "#111"}, "encoding": {"x": {"datum": 2505, "type": "quantitative"}, "y": {"datum": 0.436, "type": "quantitative"}}},
                  {"data": {"values": [{}]}, "mark": {"type": "text", "text": "P=0.014", "font": "Lato", "fontSize": 10.5, "align": "left", "baseline": "middle", "color": "#111"}, "encoding": {"x": {"datum": 2505, "type": "quantitative"}, "y": {"datum": 0.333, "type": "quantitative"}}},
                  {"data": {"values": [{}]}, "mark": {"type": "text", "text": "DNA REPLICATION", "font": "Liberation Sans", "fontSize": 10.7, "align": "center", "baseline": "middle", "color": "#333"}, "encoding": {"x": {"datum": 9764, "type": "quantitative"}, "y": {"datum": 0.758, "type": "quantitative"}}}
                ]},
                {"layer": [
                  {"data": {"values": [{}]}, "mark": {"type": "rect", "fill": "white", "stroke": "#b4b4b4", "strokeWidth": 1}, "encoding": {"x": {"datum": 0, "type": "quantitative"}, "x2": {"datum": 18900}, "y": {"datum": 0, "type": "quantitative", "scale": {"domain": [0, 1], "range": [170, 132], "nice": false}, "axis": null}, "y2": {"datum": 1}}},
                  {"data": {"name": "hits"}, "transform": [{"filter": "datum.p === 'c'"}], "mark": {"type": "rule", "stroke": "#404040", "strokeWidth": 1}, "encoding": {"x": {"field": "r", "type": "quantitative"}, "y": {"datum": 0, "type": "quantitative", "axis": null}, "y2": {"datum": 1}}}
                ]},
                {"layer": [
                  {"data": {"values": [{}]}, "mark": {"type": "rect", "fill": "white", "stroke": "#b4b4b4", "strokeWidth": 1}, "encoding": {"x": {"datum": 0, "type": "quantitative"}, "x2": {"datum": 18900}, "y": {"datum": 0, "type": "quantitative", "scale": {"domain": [0, 1], "range": [179, 170], "nice": false}, "axis": null}, "y2": {"datum": 1}}},
                  {"data": {"name": "bar"}, "mark": {"type": "rect"}, "encoding": {"x": {"field": "s", "type": "quantitative"}, "x2": {"field": "e"}, "y": {"datum": 0, "type": "quantitative", "axis": null}, "y2": {"datum": 1}, "color": {"field": "k", "type": "nominal", "scale": {"domain": [0, 1, 2, 3, 4, 5, 6, 7, 8, 9], "range": ["#d42c2c", "#f54747", "#f66577", "#f78585", "#f8b8e2", "#d6d6fa", "#c2c2f7", "#8686f0", "#6452e8", "#2a12cc"]}, "legend": null}}}
                ]},
                {"layer": [
                  {"data": {"values": [{}]}, "mark": {"type": "rect", "fill": "white", "stroke": "#b4b4b4", "strokeWidth": 1}, "encoding": {"x": {"datum": 0, "type": "quantitative"}, "x2": {"datum": 18900}, "y": {"datum": -2.4, "type": "quantitative", "scale": {"domain": [-2.4, 1.12], "range": [254, 179], "nice": false, "zero": false}, "axis": {"orient": "left", "offset": -39, "values": [-2, -1, 0, 1], "tickCount": 20, "format": "d", "grid": true, "title": "Ranked list metric (Signal2Noise)", "titleFontSize": 6.6, "titlePadding": 9, "labelFontSize": 6.5}}, "y2": {"datum": 1.12}}},
                  {"data": {"name": "grid"}, "mark": {"type": "rule", "stroke": "#c8c8c8", "strokeDash": [1, 2]}, "encoding": {"x": {"field": "t", "type": "quantitative"}, "y": {"datum": -2.4, "type": "quantitative"}, "y2": {"datum": 1.12}}},
                  {"data": {"name": "metric"}, "mark": {"type": "area", "color": "#c3c3c3"}, "encoding": {"x": {"field": "r", "type": "quantitative", "axis": {"orient": "bottom", "offset": -42, "values": [0, 2000, 4000, 6000, 8000, 10000, 12000, 14000, 16000, 18000], "tickCount": 20, "format": ",d", "grid": false, "labelFlush": false, "labelOverlap": false, "title": "Rank in Ordered Dataset", "titleFontSize": 8, "titlePadding": 4, "labelFontSize": 6.3, "labelPadding": 2}}, "y": {"field": "m", "type": "quantitative"}}},
                  {"data": {"values": [{}]}, "mark": {"type": "rule", "stroke": "#a0a0a0", "strokeDash": [3, 2], "strokeWidth": 0.8}, "encoding": {"x": {"datum": 12790, "type": "quantitative"}, "y": {"datum": -2.4, "type": "quantitative"}, "y2": {"datum": 1.12}}},
                  {"data": {"values": [{}]}, "mark": {"type": "text", "text": "'mPCa' (positively correlated)", "font": "Liberation Sans", "fontSize": 6.8, "color": "#e83a3a", "align": "left", "baseline": "middle"}, "encoding": {"x": {"datum": 130, "type": "quantitative"}, "y": {"datum": 0.93, "type": "quantitative"}}},
                  {"data": {"values": [{}]}, "mark": {"type": "text", "text": "'PCa' (negatively correlated)", "font": "Liberation Sans", "fontSize": 6.8, "color": "#4a4aff", "align": "center", "baseline": "middle"}, "encoding": {"x": {"datum": 12240, "type": "quantitative"}, "y": {"datum": -2.17, "type": "quantitative"}}},
                  {"data": {"values": [{}]}, "mark": {"type": "text", "text": "Zero cross at 12790", "font": "Liberation Sans", "fontSize": 6.4, "color": "#333", "align": "center", "baseline": "middle"}, "encoding": {"x": {"datum": 12622, "type": "quantitative"}, "y": {"datum": -0.62, "type": "quantitative"}}}
                ]}
              ]
            },
            {"width": 43, "height": 31, "data": {"values": [{"t": "d"}]}, "mark": {"type": "text", "font": "Lato", "fontSize": 16, "baseline": "alphabetic", "dx": 10.8, "color": "black"}, "encoding": {"text": {"field": "t"}}},
            {
              "width": 334, "height": 296,
              "view": {"fill": "#f1f1f1", "stroke": null},
              "resolve": {"scale": {"y": "independent"}, "axis": {"y": "independent"}},
              "layer": [
                {"layer": [
                  {"data": {"values": [{}]}, "mark": {"type": "rect", "fill": "white", "stroke": "#b4b4b4", "strokeWidth": 1}, "encoding": {"x": {"datum": 0, "type": "quantitative", "scale": {"domain": [0, 18900], "range": [39, 325], "nice": false, "zero": false}}, "x2": {"datum": 18900}, "y": {"datum": -0.027, "type": "quantitative", "scale": {"domain": [-0.027, 0.614], "range": [139, 34], "nice": false, "zero": false}, "axis": {"orient": "left", "offset": -39, "values": [0, 0.1, 0.2, 0.3, 0.4, 0.5, 0.6], "tickCount": 20, "format": ".1f", "grid": true, "title": "Enrichment score (ES)", "titleFontSize": 9, "titlePadding": 8, "labelFontSize": 7}}, "y2": {"datum": 0.614}}},
                  {"data": {"name": "grid"}, "mark": {"type": "rule", "stroke": "#c8c8c8", "strokeDash": [1, 2]}, "encoding": {"x": {"field": "t", "type": "quantitative"}, "y": {"datum": -0.027, "type": "quantitative"}, "y2": {"datum": 0.614}}},
                  {"data": {"values": [{}]}, "mark": {"type": "rule", "stroke": "#b8b8b8"}, "encoding": {"x": {"datum": 0, "type": "quantitative"}, "x2": {"datum": 18900}, "y": {"datum": 0, "type": "quantitative"}}},
                  {"data": {"name": "es"}, "transform": [{"filter": "datum.p === 'd'"}], "mark": {"type": "line", "stroke": "#00e600", "strokeWidth": 2}, "encoding": {"x": {"field": "r", "type": "quantitative"}, "y": {"field": "v", "type": "quantitative"}}},
                  {"data": {"values": [{}]}, "mark": {"type": "text", "text": "NES=1.84", "font": "Lato", "fontSize": 10.5, "align": "left", "baseline": "middle", "color": "#111"}, "encoding": {"x": {"datum": 1784, "type": "quantitative"}, "y": {"datum": 0.356, "type": "quantitative"}}},
                  {"data": {"values": [{}]}, "mark": {"type": "text", "text": "P=0.009", "font": "Lato", "fontSize": 10.5, "align": "left", "baseline": "middle", "color": "#111"}, "encoding": {"x": {"datum": 1784, "type": "quantitative"}, "y": {"datum": 0.264, "type": "quantitative"}}},
                  {"data": {"values": [{}]}, "mark": {"type": "text", "text": "HOMOLOGOUS RECOMBINATION", "font": "Liberation Sans", "fontSize": 10.7, "align": "center", "baseline": "middle", "color": "#333"}, "encoding": {"x": {"datum": 10884, "type": "quantitative"}, "y": {"datum": 0.742, "type": "quantitative"}}}
                ]},
                {"layer": [
                  {"data": {"values": [{}]}, "mark": {"type": "rect", "fill": "white", "stroke": "#b4b4b4", "strokeWidth": 1}, "encoding": {"x": {"datum": 0, "type": "quantitative"}, "x2": {"datum": 18900}, "y": {"datum": 0, "type": "quantitative", "scale": {"domain": [0, 1], "range": [175, 139], "nice": false}, "axis": null}, "y2": {"datum": 1}}},
                  {"data": {"name": "hits"}, "transform": [{"filter": "datum.p === 'd'"}], "mark": {"type": "rule", "stroke": "#404040", "strokeWidth": 1}, "encoding": {"x": {"field": "r", "type": "quantitative"}, "y": {"datum": 0, "type": "quantitative", "axis": null}, "y2": {"datum": 1}}}
                ]},
                {"layer": [
                  {"data": {"values": [{}]}, "mark": {"type": "rect", "fill": "white", "stroke": "#b4b4b4", "strokeWidth": 1}, "encoding": {"x": {"datum": 0, "type": "quantitative"}, "x2": {"datum": 18900}, "y": {"datum": 0, "type": "quantitative", "scale": {"domain": [0, 1], "range": [184, 175], "nice": false}, "axis": null}, "y2": {"datum": 1}}},
                  {"data": {"name": "bar"}, "mark": {"type": "rect"}, "encoding": {"x": {"field": "s", "type": "quantitative"}, "x2": {"field": "e"}, "y": {"datum": 0, "type": "quantitative", "axis": null}, "y2": {"datum": 1}, "color": {"field": "k", "type": "nominal", "scale": {"domain": [0, 1, 2, 3, 4, 5, 6, 7, 8, 9], "range": ["#d42c2c", "#f54747", "#f66577", "#f78585", "#f8b8e2", "#d6d6fa", "#c2c2f7", "#8686f0", "#6452e8", "#2a12cc"]}, "legend": null}}}
                ]},
                {"layer": [
                  {"data": {"values": [{}]}, "mark": {"type": "rect", "fill": "white", "stroke": "#b4b4b4", "strokeWidth": 1}, "encoding": {"x": {"datum": 0, "type": "quantitative"}, "x2": {"datum": 18900}, "y": {"datum": -2.4, "type": "quantitative", "scale": {"domain": [-2.4, 1.12], "range": [255, 184], "nice": false, "zero": false}, "axis": {"orient": "left", "offset": -39, "values": [-2, -1, 0, 1], "tickCount": 20, "format": "d", "grid": true, "title": "Ranked list metric (Signal2Noise)", "titleFontSize": 6.6, "titlePadding": 9, "labelFontSize": 6.5}}, "y2": {"datum": 1.12}}},
                  {"data": {"name": "grid"}, "mark": {"type": "rule", "stroke": "#c8c8c8", "strokeDash": [1, 2]}, "encoding": {"x": {"field": "t", "type": "quantitative"}, "y": {"datum": -2.4, "type": "quantitative"}, "y2": {"datum": 1.12}}},
                  {"data": {"name": "metric"}, "mark": {"type": "area", "color": "#c3c3c3"}, "encoding": {"x": {"field": "r", "type": "quantitative", "axis": {"orient": "bottom", "offset": -41, "values": [0, 2000, 4000, 6000, 8000, 10000, 12000, 14000, 16000, 18000], "tickCount": 20, "format": ",d", "grid": false, "labelFlush": false, "labelOverlap": false, "title": "Rank in Ordered Dataset", "titleFontSize": 8, "titlePadding": 4, "labelFontSize": 6.3, "labelPadding": 2}}, "y": {"field": "m", "type": "quantitative"}}},
                  {"data": {"values": [{}]}, "mark": {"type": "rule", "stroke": "#a0a0a0", "strokeDash": [3, 2], "strokeWidth": 0.8}, "encoding": {"x": {"datum": 12790, "type": "quantitative"}, "y": {"datum": -2.4, "type": "quantitative"}, "y2": {"datum": 1.12}}},
                  {"data": {"values": [{}]}, "mark": {"type": "text", "text": "'mPCa' (positively correlated)", "font": "Liberation Sans", "fontSize": 6.8, "color": "#e83a3a", "align": "left", "baseline": "middle"}, "encoding": {"x": {"datum": 130, "type": "quantitative"}, "y": {"datum": 0.93, "type": "quantitative"}}},
                  {"data": {"values": [{}]}, "mark": {"type": "text", "text": "'PCa' (negatively correlated)", "font": "Liberation Sans", "fontSize": 6.8, "color": "#4a4aff", "align": "center", "baseline": "middle"}, "encoding": {"x": {"datum": 12240, "type": "quantitative"}, "y": {"datum": -2.17, "type": "quantitative"}}},
                  {"data": {"values": [{}]}, "mark": {"type": "text", "text": "Zero cross at 12790", "font": "Liberation Sans", "fontSize": 6.4, "color": "#333", "align": "center", "baseline": "middle"}, "encoding": {"x": {"datum": 12622, "type": "quantitative"}, "y": {"datum": -0.62, "type": "quantitative"}}}
                ]}
              ]
            }
          ]
        }
      ]
    },
    {
      "spacing": 0,
      "hconcat": [
        {"width": 20, "height": 37, "data": {"values": [{"t": "e"}]}, "mark": {"type": "text", "font": "Lato", "fontSize": 16, "baseline": "alphabetic", "dx": -3.3, "color": "black"}, "encoding": {"text": {"field": "t"}}},
        {
          "width": 334, "height": 298,
          "view": {"fill": "#f1f1f1", "stroke": null},
          "resolve": {"scale": {"y": "independent"}, "axis": {"y": "independent"}},
          "layer": [
            {"layer": [
              {"data": {"values": [{}]}, "mark": {"type": "rect", "fill": "white", "stroke": "#b4b4b4", "strokeWidth": 1}, "encoding": {"x": {"datum": 0, "type": "quantitative", "scale": {"domain": [0, 18900], "range": [39, 328], "nice": false, "zero": false}}, "x2": {"datum": 18900}, "y": {"datum": -0.03, "type": "quantitative", "scale": {"domain": [-0.03, 0.655], "range": [132, 19], "nice": false, "zero": false}, "axis": {"orient": "left", "offset": -39, "values": [0, 0.1, 0.2, 0.3, 0.4, 0.5, 0.6], "tickCount": 20, "format": ".1f", "grid": true, "title": "Enrichment score (ES)", "titleFontSize": 9, "titlePadding": 8, "labelFontSize": 7}}, "y2": {"datum": 0.655}}},
              {"data": {"name": "grid"}, "mark": {"type": "rule", "stroke": "#c8c8c8", "strokeDash": [1, 2]}, "encoding": {"x": {"field": "t", "type": "quantitative"}, "y": {"datum": -0.03, "type": "quantitative"}, "y2": {"datum": 0.655}}},
              {"data": {"values": [{}]}, "mark": {"type": "rule", "stroke": "#b8b8b8"}, "encoding": {"x": {"datum": 0, "type": "quantitative"}, "x2": {"datum": 18900}, "y": {"datum": 0, "type": "quantitative"}}},
              {"data": {"name": "es"}, "transform": [{"filter": "datum.p === 'e'"}], "mark": {"type": "line", "stroke": "#00e600", "strokeWidth": 2}, "encoding": {"x": {"field": "r", "type": "quantitative"}, "y": {"field": "v", "type": "quantitative"}}},
              {"data": {"values": [{}]}, "mark": {"type": "text", "text": "NES=1.67", "font": "Lato", "fontSize": 10.5, "align": "left", "baseline": "middle", "color": "#111"}, "encoding": {"x": {"datum": 2570, "type": "quantitative"}, "y": {"datum": 0.384, "type": "quantitative"}}},
              {"data": {"values": [{}]}, "mark": {"type": "text", "text": "P=0.046", "font": "Lato", "fontSize": 10.5, "align": "left", "baseline": "middle", "color": "#111"}, "encoding": {"x": {"datum": 2570, "type": "quantitative"}, "y": {"datum": 0.299, "type": "quantitative"}}},
              {"data": {"values": [{}]}, "mark": {"type": "text", "text": "MISMATCH REPAIR", "font": "Liberation Sans", "fontSize": 10.7, "align": "center", "baseline": "middle", "color": "#333"}, "encoding": {"x": {"datum": 9659, "type": "quantitative"}, "y": {"datum": 0.7015, "type": "quantitative"}}}
            ]},
            {"layer": [
              {"data": {"values": [{}]}, "mark": {"type": "rect", "fill": "white", "stroke": "#b4b4b4", "strokeWidth": 1}, "encoding": {"x": {"datum": 0, "type": "quantitative"}, "x2": {"datum": 18900}, "y": {"datum": 0, "type": "quantitative", "scale": {"domain": [0, 1], "range": [170, 132], "nice": false}, "axis": null}, "y2": {"datum": 1}}},
              {"data": {"name": "hits"}, "transform": [{"filter": "datum.p === 'e'"}], "mark": {"type": "rule", "stroke": "#404040", "strokeWidth": 1}, "encoding": {"x": {"field": "r", "type": "quantitative"}, "y": {"datum": 0, "type": "quantitative", "axis": null}, "y2": {"datum": 1}}}
            ]},
            {"layer": [
              {"data": {"values": [{}]}, "mark": {"type": "rect", "fill": "white", "stroke": "#b4b4b4", "strokeWidth": 1}, "encoding": {"x": {"datum": 0, "type": "quantitative"}, "x2": {"datum": 18900}, "y": {"datum": 0, "type": "quantitative", "scale": {"domain": [0, 1], "range": [179, 170], "nice": false}, "axis": null}, "y2": {"datum": 1}}},
              {"data": {"name": "bar"}, "mark": {"type": "rect"}, "encoding": {"x": {"field": "s", "type": "quantitative"}, "x2": {"field": "e"}, "y": {"datum": 0, "type": "quantitative", "axis": null}, "y2": {"datum": 1}, "color": {"field": "k", "type": "nominal", "scale": {"domain": [0, 1, 2, 3, 4, 5, 6, 7, 8, 9], "range": ["#d42c2c", "#f54747", "#f66577", "#f78585", "#f8b8e2", "#d6d6fa", "#c2c2f7", "#8686f0", "#6452e8", "#2a12cc"]}, "legend": null}}}
            ]},
            {"layer": [
              {"data": {"values": [{}]}, "mark": {"type": "rect", "fill": "white", "stroke": "#b4b4b4", "strokeWidth": 1}, "encoding": {"x": {"datum": 0, "type": "quantitative"}, "x2": {"datum": 18900}, "y": {"datum": -2.4, "type": "quantitative", "scale": {"domain": [-2.4, 1.12], "range": [255, 179], "nice": false, "zero": false}, "axis": {"orient": "left", "offset": -39, "values": [-2, -1, 0, 1], "tickCount": 20, "format": "d", "grid": true, "title": "Ranked list metric (Signal2Noise)", "titleFontSize": 6.6, "titlePadding": 9, "labelFontSize": 6.5}}, "y2": {"datum": 1.12}}},
              {"data": {"name": "grid"}, "mark": {"type": "rule", "stroke": "#c8c8c8", "strokeDash": [1, 2]}, "encoding": {"x": {"field": "t", "type": "quantitative"}, "y": {"datum": -2.4, "type": "quantitative"}, "y2": {"datum": 1.12}}},
              {"data": {"name": "metric"}, "mark": {"type": "area", "color": "#c3c3c3"}, "encoding": {"x": {"field": "r", "type": "quantitative", "axis": {"orient": "bottom", "offset": -43, "values": [0, 2000, 4000, 6000, 8000, 10000, 12000, 14000, 16000, 18000], "tickCount": 20, "format": ",d", "grid": false, "labelFlush": false, "labelOverlap": false, "title": "Rank in Ordered Dataset", "titleFontSize": 8, "titlePadding": 4, "labelFontSize": 6.3, "labelPadding": 2}}, "y": {"field": "m", "type": "quantitative"}}},
              {"data": {"values": [{}]}, "mark": {"type": "rule", "stroke": "#a0a0a0", "strokeDash": [3, 2], "strokeWidth": 0.8}, "encoding": {"x": {"datum": 12790, "type": "quantitative"}, "y": {"datum": -2.4, "type": "quantitative"}, "y2": {"datum": 1.12}}},
              {"data": {"values": [{}]}, "mark": {"type": "text", "text": "'mPCa' (positively correlated)", "font": "Liberation Sans", "fontSize": 6.8, "color": "#e83a3a", "align": "left", "baseline": "middle"}, "encoding": {"x": {"datum": 130, "type": "quantitative"}, "y": {"datum": 0.93, "type": "quantitative"}}},
              {"data": {"values": [{}]}, "mark": {"type": "text", "text": "'PCa' (negatively correlated)", "font": "Liberation Sans", "fontSize": 6.8, "color": "#4a4aff", "align": "center", "baseline": "middle"}, "encoding": {"x": {"datum": 12240, "type": "quantitative"}, "y": {"datum": -2.17, "type": "quantitative"}}},
              {"data": {"values": [{}]}, "mark": {"type": "text", "text": "Zero cross at 12790", "font": "Liberation Sans", "fontSize": 6.4, "color": "#333", "align": "center", "baseline": "middle"}, "encoding": {"x": {"datum": 12622, "type": "quantitative"}, "y": {"datum": -0.62, "type": "quantitative"}}}
            ]}
          ]
        },
        {"width": 40, "height": 34, "data": {"values": [{"t": "f"}]}, "mark": {"type": "text", "font": "Lato", "fontSize": 16, "baseline": "alphabetic", "dx": 11.3, "color": "black"}, "encoding": {"text": {"field": "t"}}},
        {
          "width": 337, "height": 298,
          "view": {"fill": "#f1f1f1", "stroke": null},
          "resolve": {"scale": {"y": "independent"}, "axis": {"y": "independent"}},
          "layer": [
            {"layer": [
              {"data": {"values": [{}]}, "mark": {"type": "rect", "fill": "white", "stroke": "#b4b4b4", "strokeWidth": 1}, "encoding": {"x": {"datum": 0, "type": "quantitative", "scale": {"domain": [0, 18900], "range": [39, 329], "nice": false, "zero": false}}, "x2": {"datum": 18900}, "y": {"datum": -0.035, "type": "quantitative", "scale": {"domain": [-0.035, 0.704], "range": [139, 34], "nice": false, "zero": false}, "axis": {"orient": "left", "offset": -39, "values": [0, 0.1, 0.2, 0.3, 0.4, 0.5, 0.6, 0.7], "tickCount": 20, "format": ".1f", "grid": true, "title": "Enrichment score (ES)", "titleFontSize": 9, "titlePadding": 8, "labelFontSize": 7}}, "y2": {"datum": 0.704}}},
              {"data": {"name": "grid"}, "mark": {"type": "rule", "stroke": "#c8c8c8", "strokeDash": [1, 2]}, "encoding": {"x": {"field": "t", "type": "quantitative"}, "y": {"datum": -0.035, "type": "quantitative"}, "y2": {"datum": 0.704}}},
              {"data": {"values": [{}]}, "mark": {"type": "rule", "stroke": "#b8b8b8"}, "encoding": {"x": {"datum": 0, "type": "quantitative"}, "x2": {"datum": 18900}, "y": {"datum": 0, "type": "quantitative"}}},
              {"data": {"name": "es"}, "transform": [{"filter": "datum.p === 'f'"}], "mark": {"type": "line", "stroke": "#00e600", "strokeWidth": 2}, "encoding": {"x": {"field": "r", "type": "quantitative"}, "y": {"field": "v", "type": "quantitative"}}},
              {"data": {"values": [{}]}, "mark": {"type": "text", "text": "NES=1.88", "font": "Lato", "fontSize": 10.5, "align": "left", "baseline": "middle", "color": "#111"}, "encoding": {"x": {"datum": 1890, "type": "quantitative"}, "y": {"datum": 0.431, "type": "quantitative"}}},
              {"data": {"values": [{}]}, "mark": {"type": "text", "text": "P=0.004", "font": "Lato", "fontSize": 10.5, "align": "left", "baseline": "middle", "color": "#111"}, "encoding": {"x": {"datum": 1890, "type": "quantitative"}, "y": {"datum": 0.324, "type": "quantitative"}}},
              {"data": {"values": [{}]}, "mark": {"type": "text", "text": "ONE CARBON POOL BY FOLATE", "font": "Liberation Sans", "fontSize": 10.7, "align": "center", "baseline": "middle", "color": "#333"}, "encoding": {"x": {"datum": 10721, "type": "quantitative"}, "y": {"datum": 0.8515, "type": "quantitative"}}}
            ]},
            {"layer": [
              {"data": {"values": [{}]}, "mark": {"type": "rect", "fill": "white", "stroke": "#b4b4b4", "strokeWidth": 1}, "encoding": {"x": {"datum": 0, "type": "quantitative"}, "x2": {"datum": 18900}, "y": {"datum": 0, "type": "quantitative", "scale": {"domain": [0, 1], "range": [175, 139], "nice": false}, "axis": null}, "y2": {"datum": 1}}},
              {"data": {"name": "hits"}, "transform": [{"filter": "datum.p === 'f'"}], "mark": {"type": "rule", "stroke": "#404040", "strokeWidth": 1}, "encoding": {"x": {"field": "r", "type": "quantitative"}, "y": {"datum": 0, "type": "quantitative", "axis": null}, "y2": {"datum": 1}}}
            ]},
            {"layer": [
              {"data": {"values": [{}]}, "mark": {"type": "rect", "fill": "white", "stroke": "#b4b4b4", "strokeWidth": 1}, "encoding": {"x": {"datum": 0, "type": "quantitative"}, "x2": {"datum": 18900}, "y": {"datum": 0, "type": "quantitative", "scale": {"domain": [0, 1], "range": [184, 175], "nice": false}, "axis": null}, "y2": {"datum": 1}}},
              {"data": {"name": "bar"}, "mark": {"type": "rect"}, "encoding": {"x": {"field": "s", "type": "quantitative"}, "x2": {"field": "e"}, "y": {"datum": 0, "type": "quantitative", "axis": null}, "y2": {"datum": 1}, "color": {"field": "k", "type": "nominal", "scale": {"domain": [0, 1, 2, 3, 4, 5, 6, 7, 8, 9], "range": ["#d42c2c", "#f54747", "#f66577", "#f78585", "#f8b8e2", "#d6d6fa", "#c2c2f7", "#8686f0", "#6452e8", "#2a12cc"]}, "legend": null}}}
            ]},
            {"layer": [
              {"data": {"values": [{}]}, "mark": {"type": "rect", "fill": "white", "stroke": "#b4b4b4", "strokeWidth": 1}, "encoding": {"x": {"datum": 0, "type": "quantitative"}, "x2": {"datum": 18900}, "y": {"datum": -2.4, "type": "quantitative", "scale": {"domain": [-2.4, 1.12], "range": [255, 184], "nice": false, "zero": false}, "axis": {"orient": "left", "offset": -39, "values": [-2, -1, 0, 1], "tickCount": 20, "format": "d", "grid": true, "title": "Ranked list metric (Signal2Noise)", "titleFontSize": 6.6, "titlePadding": 9, "labelFontSize": 6.5}}, "y2": {"datum": 1.12}}},
              {"data": {"name": "grid"}, "mark": {"type": "rule", "stroke": "#c8c8c8", "strokeDash": [1, 2]}, "encoding": {"x": {"field": "t", "type": "quantitative"}, "y": {"datum": -2.4, "type": "quantitative"}, "y2": {"datum": 1.12}}},
              {"data": {"name": "metric"}, "mark": {"type": "area", "color": "#c3c3c3"}, "encoding": {"x": {"field": "r", "type": "quantitative", "axis": {"orient": "bottom", "offset": -43, "values": [0, 2000, 4000, 6000, 8000, 10000, 12000, 14000, 16000, 18000], "tickCount": 20, "format": ",d", "grid": false, "labelFlush": false, "labelOverlap": false, "title": "Rank in Ordered Dataset", "titleFontSize": 8, "titlePadding": 4, "labelFontSize": 6.3, "labelPadding": 2}}, "y": {"field": "m", "type": "quantitative"}}},
              {"data": {"values": [{}]}, "mark": {"type": "rule", "stroke": "#a0a0a0", "strokeDash": [3, 2], "strokeWidth": 0.8}, "encoding": {"x": {"datum": 12790, "type": "quantitative"}, "y": {"datum": -2.4, "type": "quantitative"}, "y2": {"datum": 1.12}}},
              {"data": {"values": [{}]}, "mark": {"type": "text", "text": "'mPCa' (positively correlated)", "font": "Liberation Sans", "fontSize": 6.8, "color": "#e83a3a", "align": "left", "baseline": "middle"}, "encoding": {"x": {"datum": 130, "type": "quantitative"}, "y": {"datum": 0.93, "type": "quantitative"}}},
              {"data": {"values": [{}]}, "mark": {"type": "text", "text": "'PCa' (negatively correlated)", "font": "Liberation Sans", "fontSize": 6.8, "color": "#4a4aff", "align": "center", "baseline": "middle"}, "encoding": {"x": {"datum": 12240, "type": "quantitative"}, "y": {"datum": -2.17, "type": "quantitative"}}},
              {"data": {"values": [{}]}, "mark": {"type": "text", "text": "Zero cross at 12790", "font": "Liberation Sans", "fontSize": 6.4, "color": "#333", "align": "center", "baseline": "middle"}, "encoding": {"x": {"datum": 12622, "type": "quantitative"}, "y": {"datum": -0.62, "type": "quantitative"}}}
            ]}
          ]
        }
      ]
    }
  ]
}
